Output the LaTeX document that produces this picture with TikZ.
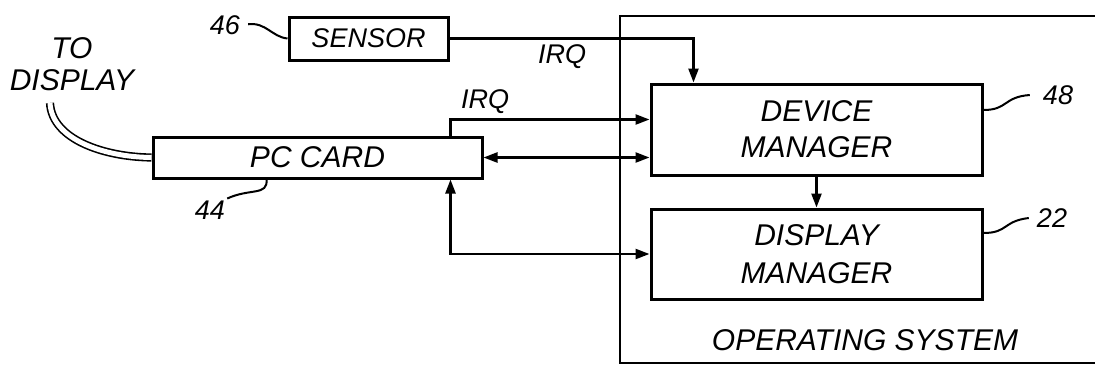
\documentclass[tikz,border=0pt]{standalone}
\usepackage{fontspec}
\setmainfont{Liberation Sans}
\usetikzlibrary{arrows.meta}
\newcommand{\patfont}{\fontsize{30}{36}\selectfont\itshape}
\newcommand{\numfont}{\fontsize{27}{32}\selectfont\itshape}

\begin{document}
\begin{tikzpicture}[
  x=1pt, y=1pt,
  box/.style={draw, line width=3pt, inner sep=0pt, align=center, font=\patfont},
  lbl/.style={inner sep=2pt, align=center, font=\numfont},
  arr/.style={-{Triangle[length=14pt,width=10pt]}, line width=2.4pt},
  dblarr/.style={{Triangle[length=14pt,width=10pt]}-{Triangle[length=14pt,width=10pt]}, line width=2.4pt},
  leader/.style={line width=2pt}
]
\useasboundingbox (0,0) rectangle (1095,-365);
% operating system frame, open to the right
\coordinate (os-tr) at (1095,-16);
\coordinate (os-tl) at (620,-16);
\coordinate (os-bl) at (620,-363);
\coordinate (os-br) at (1095,-363);
\draw[line width=2.4pt] (os-tr) -- (os-tl) -- (os-bl) -- (os-br);
\node[lbl, font=\patfont] (ostext) at (865,-340) {OPERATING SYSTEM};

\node[box, minimum width=159pt, minimum height=43pt, font=\numfont] (sensor) at (368.5,-38.5) {SENSOR};
\node[box, minimum width=329pt, minimum height=41pt] (pccard) at (317.5,-157.5) {PC CARD};
\node[box, minimum width=331pt, minimum height=91pt] (devmgr) at (816.5,-129.5) {DEVICE\\MANAGER};
\node[box, minimum width=331pt, minimum height=90pt, font=\fontsize{30}{38}\selectfont\itshape] (dispmgr) at (816.5,-254) {DISPLAY\\MANAGER};

% cable to the display
\node[lbl, font=\fontsize{30}{32}\selectfont\itshape] (todisp) at (72,-64) {TO\\DISPLAY};
\coordinate (cable) at (50,-103);
\draw[double, double distance=5pt, line width=1.6pt] (cable) .. controls (52,-140) and (105,-157) .. (pccard.west);

% signals
\draw[arr] (sensor.east) -| ([xshift=44pt]devmgr.north west);
\node[lbl] (irqa) at (562,-57) {IRQ};
\draw[arr] ([xshift=-33pt]pccard.north east) |- ([yshift=10pt]devmgr.west);
\node[lbl] (irqb) at (485,-102) {IRQ};
\draw[dblarr] (pccard.east) -- (pccard.east -| devmgr.west);
\draw[dblarr] ([xshift=-33pt]pccard.south east) |- (dispmgr.west);
\draw[arr] (devmgr.south) -- (dispmgr.north);

% reference numerals
\node[lbl] (n46) at (225,-25) {46};
\draw[leader, shorten <=6pt] (n46.east) .. controls (266,-22) and (272,-37) .. (sensor.west);
\node[lbl] (n44) at (210,-210) {44};
\draw[leader] (n44.north east) .. controls (250,-188) and (268,-196) .. ([xshift=115pt]pccard.south west);
\node[lbl] (n48) at (1058,-95) {48};
\draw[leader] ([yshift=19.5pt]devmgr.east) .. controls (1008,-110) and (1003,-97) .. ([xshift=-11pt]n48.west);
\node[lbl] (n22) at (1052,-218) {22};
\draw[leader] ([yshift=21pt]dispmgr.east) .. controls (1008,-233) and (1003,-221) .. ([xshift=-6pt]n22.west);
\end{tikzpicture}
\end{document}
